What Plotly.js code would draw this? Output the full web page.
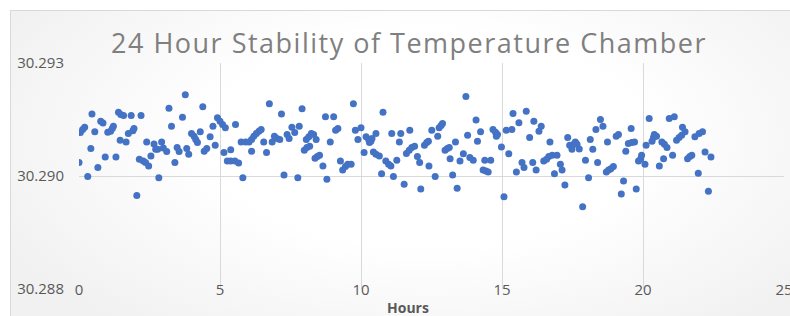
<!DOCTYPE html>
<html>
<head>
<meta charset="utf-8">
<script src="https://cdn.plot.ly/plotly-3.0.1.min.js"></script>
<style>
  html, body { margin: 0; padding: 0; background: #ffffff; overflow: hidden; }
  #frame {
    position: absolute; left: 10px; top: 10px; width: 800px; height: 320px;
    border-left: 1px solid #d9d9d9; border-top: 1px solid #d9d9d9;
    background: radial-gradient(ellipse 60% 75% at 52% 40%, #ffffff 45%, #f1f1f1 100%);
  }
  #chart { position: absolute; left: 0; top: 0; width: 790px; height: 316px; }
  #chart .gtitle { letter-spacing: 1.5px; }
</style>
</head>
<body>
<div id="frame"></div>
<div id="chart"></div>
<script>
const chartTitle = "24 Hour Stability of Temperature Chamber";
const xAxisTitle = "Hours";
const xTickVals = [0, 5, 10, 15, 20, 25];
const yTickVals = [30.2875, 30.2900, 30.2925];
const yTickText = ["30.288", "30.290", "30.293"];

const hours = [
  0.00,0.05,0.13,0.20,0.31,0.42,0.46,0.56,0.67,0.77,
  0.85,0.93,1.02,1.12,1.18,1.22,1.31,1.40,1.46,1.48,
  1.58,1.67,1.75,1.85,1.91,1.95,2.05,2.14,2.20,2.28,
  2.36,2.40,2.47,2.55,2.66,2.72,2.79,2.83,2.93,2.99,
  3.11,3.19,3.28,3.40,3.48,3.55,3.67,3.77,3.82,3.89,
  3.99,
  4.08,4.14,4.20,4.30,4.39,4.44,4.53,4.65,4.75,4.83,4.91,5.00,5.09,5.14,5.19,5.26,5.38,5.38,5.53,5.55,
  5.66,5.75,5.81,5.91,6.03,6.12,6.12,6.20,6.29,6.38,6.46,6.55,6.65,6.75,6.85,6.93,7.02,7.12,7.18,7.27,
  7.38,7.45,7.55,7.65,7.76,7.81,7.91,7.99,8.06,
  8.08,8.15,8.18,8.24,8.32,8.37,8.41,8.45,8.53,8.65,8.74,8.79,8.91,9.03,9.10,9.18,9.27,9.35,9.45,9.53,
  9.65,9.73,9.80,9.89,10.00,10.11,10.18,10.27,10.30,10.35,10.39,10.44,10.53,10.53,10.65,10.73,10.78,10.88,10.98,11.06,
  11.09,11.15,11.27,11.36,11.41,11.53,11.61,11.71,11.73,11.80,11.90,12.00,12.08,12.12,12.25,
  12.33,12.39,12.41,12.51,12.63,12.72,12.77,12.84,12.89,12.98,13.06,13.13,13.16,13.25,13.35,13.41,13.51,13.63,13.72,13.78,
  13.86,13.98,14.08,14.13,14.24,14.33,14.39,14.43,14.51,14.60,14.68,14.77,14.80,14.84,14.98,15.07,15.15,15.24,15.35,15.39,
  15.51,15.60,15.71,15.78,15.86,15.98,16.09,16.13,16.21,16.31,
  16.39,16.48,16.58,16.66,16.70,16.78,16.86,16.95,17.07,17.13,17.23,17.33,17.40,17.48,17.54,17.60,17.66,17.74,17.86,17.96,
  18.07,18.13,18.22,18.33,18.39,18.49,18.58,18.70,18.74,18.78,18.86,18.95,19.05,19.13,19.23,19.31,19.39,19.48,19.58,19.60,
  19.70,19.76,19.84,19.92,19.95,20.07,20.11,20.22,20.32,
  20.37,20.40,20.48,20.58,20.67,20.73,20.76,20.85,20.93,21.05,21.11,21.19,21.28,21.37,21.40,21.49,21.58,21.66,21.73,21.84,
  21.96,21.99,22.11,22.20,22.32,22.41
];

const temperature = [
  30.29030,30.29096,30.29103,30.29108,30.28999,30.29061,30.29137,30.29098,30.29019,30.29121,
  30.29117,30.29042,30.29097,30.29099,30.29105,30.29110,30.29042,30.29141,30.29079,30.29136,
  30.29134,30.29075,30.29094,30.29134,30.29100,30.29105,30.28957,30.29037,30.29134,30.29033,
  30.29030,30.29075,30.29022,30.29044,30.29071,30.29059,30.29059,30.28996,30.29075,30.29062,
  30.29054,30.29150,30.29110,30.29030,30.29063,30.29054,30.29130,30.29180,30.29061,30.29048,
  30.29094,
  30.29088,30.29081,30.29074,30.29098,30.29153,30.29055,30.29061,30.29087,30.29110,30.29068,30.29129,30.29121,30.29114,30.29052,30.29107,30.29033,30.29033,30.29058,30.29033,30.29114,
  30.29029,30.29075,30.28996,30.29075,30.29075,30.29055,30.29081,30.29088,30.29094,30.29099,30.29103,30.29075,30.29052,30.29160,30.29075,30.29088,30.29083,30.29081,30.29137,30.29002,
  30.29092,30.29083,30.29108,30.29096,30.28996,30.29110,30.29149,30.29057,30.29081,
  30.29063,30.29087,30.29066,30.29094,30.29092,30.29039,30.29081,30.29043,30.29046,30.29022,30.29131,30.28993,30.29075,30.29131,30.29101,30.29105,30.29033,30.29013,30.29021,30.29026,
  30.29026,30.29160,30.29101,30.29081,30.29107,30.29052,30.29087,30.29081,30.29074,30.29077,30.29083,30.29053,30.29048,30.29094,30.29044,30.29005,30.29141,30.29033,30.29026,30.29022,
  30.29094,30.28999,30.29035,30.29075,30.29094,30.28982,30.29050,30.29057,30.29101,30.29063,30.29066,30.29043,30.29030,30.28971,30.29068,
  30.29074,30.29077,30.29022,30.29101,30.28999,30.29088,30.29107,30.29112,30.29116,30.29057,30.29061,30.29063,30.29038,30.29002,30.29075,30.28973,30.29033,30.29049,30.29176,30.29090,
  30.29041,30.29035,30.29124,30.29077,30.29098,30.29013,30.29035,30.29011,30.29009,30.29035,30.29103,30.29097,30.29088,30.29092,30.29064,30.28954,30.29101,30.29049,30.29103,30.29138,
  30.29009,30.29118,30.29030,30.29019,30.29143,30.29085,30.29030,30.29121,30.29013,30.29099,
  30.29110,30.29033,30.29037,30.29043,30.29075,30.29046,30.29005,30.29046,30.29026,30.29013,30.28980,30.29085,30.29068,30.29059,30.29070,30.29075,30.29070,30.29060,30.28932,30.29035,
  30.28996,30.29081,30.29059,30.29103,30.29030,30.29125,30.29110,30.29009,30.29075,30.29013,30.29016,30.29021,30.29088,30.29092,30.28960,30.28989,30.29055,30.29072,30.29105,30.29074,
  30.29075,30.28971,30.29033,30.29038,30.29046,30.29026,30.29068,30.29127,30.29077,
  30.29085,30.29092,30.29088,30.29022,30.29075,30.29038,30.29070,30.29063,30.29127,30.29046,30.29131,30.29079,30.29085,30.29090,30.29108,30.29098,30.29038,30.29043,30.29046,30.29087,
  30.29006,30.29094,30.29098,30.29053,30.28966,30.29042
];

const trace = {
  type: "scatter",
  mode: "markers",
  x: hours,
  y: temperature,
  marker: { color: "#4472C4", size: 7 },
  hoverinfo: "x+y",
  showlegend: false
};

const layout = {
  width: 790,
  height: 316,
  margin: { l: 79, r: 6, t: 63, b: 27, pad: 0 },
  paper_bgcolor: "rgba(0,0,0,0)",
  plot_bgcolor: "rgba(0,0,0,0)",
  font: { family: "Open Sans, sans-serif", color: "#595959" },
  title: {
    text: chartTitle,
    font: { family: "Open Sans, sans-serif", size: 27, color: "#7f7f7f" },
    xref: "container", x: 409 / 790, xanchor: "center",
    yref: "container", y: 1 - 44 / 316, yanchor: "middle"
  },
  xaxis: {
    range: [0, 25],
    tickmode: "array",
    tickvals: xTickVals,
    showgrid: true,
    gridcolor: "#d9d9d9",
    gridwidth: 1,
    zeroline: false,
    showline: false,
    ticks: "",
    tickfont: { size: 15, color: "#595959" },
    ticklabelstandoff: -10,
    ticklabeloverflow: "allow",
    fixedrange: true
  },
  yaxis: {
    range: [30.2875, 30.2925],
    tickmode: "array",
    tickvals: yTickVals,
    ticktext: yTickText,
    showgrid: true,
    gridcolor: "#d9d9d9",
    gridwidth: 1,
    zeroline: false,
    showline: false,
    ticks: "",
    tickfont: { size: 15, color: "#595959" },
    ticklabelstandoff: 14,
    fixedrange: true
  },
  annotations: [{
    text: "<b>" + xAxisTitle + "</b>",
    xref: "paper", yref: "paper",
    x: (408 - 79) / 705, y: (289.3 - 307.5) / 226.6,
    xanchor: "center", yanchor: "middle",
    showarrow: false,
    font: { size: 14, color: "#595959" }
  }]
};

Plotly.newPlot("chart", [trace], layout, { displayModeBar: false, staticPlot: true });
</script>
</body>
</html>
